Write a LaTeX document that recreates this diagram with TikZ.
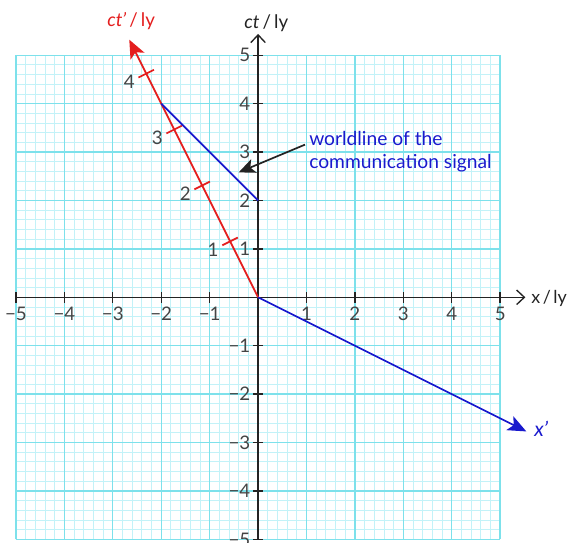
\documentclass[tikz,border=0pt]{standalone}
\usepackage{fontspec}
\setmainfont{Lato}
\usetikzlibrary{arrows.meta}
\definecolor{gridmajor}{RGB}{125,225,235}
\definecolor{gridminor}{RGB}{195,242,248}
\definecolor{axred}{RGB}{228,30,30}
\definecolor{axblue}{RGB}{25,25,205}
\definecolor{axgray}{RGB}{35,35,35}
\tikzset{
	axis/.style={axgray, line width=0.8pt, -{Straight Barb[length=1.6mm, width=3mm]}},
	tick/.style={axgray, line width=0.8pt},
	num/.style={text=axgray!85, font=\fontsize{11}{13}\selectfont, inner sep=1pt},
	frame/.style={line width=1pt, -{Stealth[length=3.8mm, width=3.2mm, inset=0.9mm]}}
}

\begin{document}
\begin{tikzpicture}[x=1cm, y=1cm, every node/.style={font=\fontsize{11}{13}\selectfont}]
	\useasboundingbox (-5.33,-5.06) rectangle (6.38,6.14);
	\draw[gridminor, line width=0.5pt, step=0.2] (-5,-5) grid (5,5);
	\draw[gridmajor, line width=0.8pt, step=1] (-5,-5) grid (5,5);
	\coordinate (O) at (0,0);
	\coordinate (xstart) at (-5,0);
	\coordinate (xend) at (5.52,0);
	\coordinate (ybot) at (0,-5);
	\coordinate (ytop) at (0,5.44);
	\coordinate (ctend) at (-2.66,5.32);
	\coordinate (xpend) at (5.54,-2.77);
	\coordinate (emit) at (-2,4);
	\coordinate (recv) at (0,2);
	\coordinate (aim) at (-0.4,2.58);
	\draw[axis] (xstart) -- (xend);
	\draw[axis] (ybot) -- (ytop);
	\foreach \n in {1,...,5} {
		\draw[tick] (\n,-0.11) -- (\n,0.11);
		\draw[tick] (-\n,-0.11) -- (-\n,0.11);
		\node[num, anchor=north] (xl\n) at (\n,-0.16) {\n};
		\node[num, anchor=north] (xm\n) at (-\n,-0.16) {−\n};
		\draw[tick] (-0.11,\n) -- (0.11,\n);
		\draw[tick] (-0.11,-\n) -- (0.11,-\n);
		\node[num, anchor=east] (yl\n) at (-0.12,\n) {\n};
		\node[num, anchor=east] (ym\n) at (-0.12,-\n) {−\n};
	}
	\node[text=axgray] (ctlab) at (0.17,5.66) {\textit{ct}\,/\,ly};
	\node[anchor=west, inner sep=0.5pt, text=axgray, font=\fontsize{10.5}{12}\selectfont] (xlab) at (5.62,-0.03) {x\kern1.5pt/\kern1.5pt ly};
	% moving frame
	\draw[frame, axred] (O) -- (ctend);
	\draw[frame, axblue] (O) -- (xpend);
	\foreach \k in {1,...,4} {
		\draw[axred, line width=1pt] ({-0.57735*\k-0.16},{1.1547*\k-0.08}) -- ++(0.32,0.16);
		\node[num] (tp\k) at ({-0.57735*\k-0.35},{1.1547*\k-0.17}) {\k};
	}
	\node[text=axred] (ctplab) at (-2.62,5.70) {\textit{ct'}\,/\,ly};
	\node[anchor=west, text=axblue, font=\fontsize{12}{14}\selectfont\itshape] (xplab) at (5.58,-2.72) {x'};
	% signal
	\draw[axblue, line width=1pt] (emit) -- (recv);
	\node[anchor=north west, align=left, inner sep=0pt, text=axblue, font=\fontsize{11.3}{13.5}\selectfont] (sig) at (1.05,3.44) {worldline of the\\communication signal};
	\draw[line width=1pt, axgray, -{Stealth[length=3.4mm, width=3mm, inset=0.8mm]}] ([shift={(-0.08,0.14)}]sig.west) -- (aim);
\end{tikzpicture}
\end{document}
